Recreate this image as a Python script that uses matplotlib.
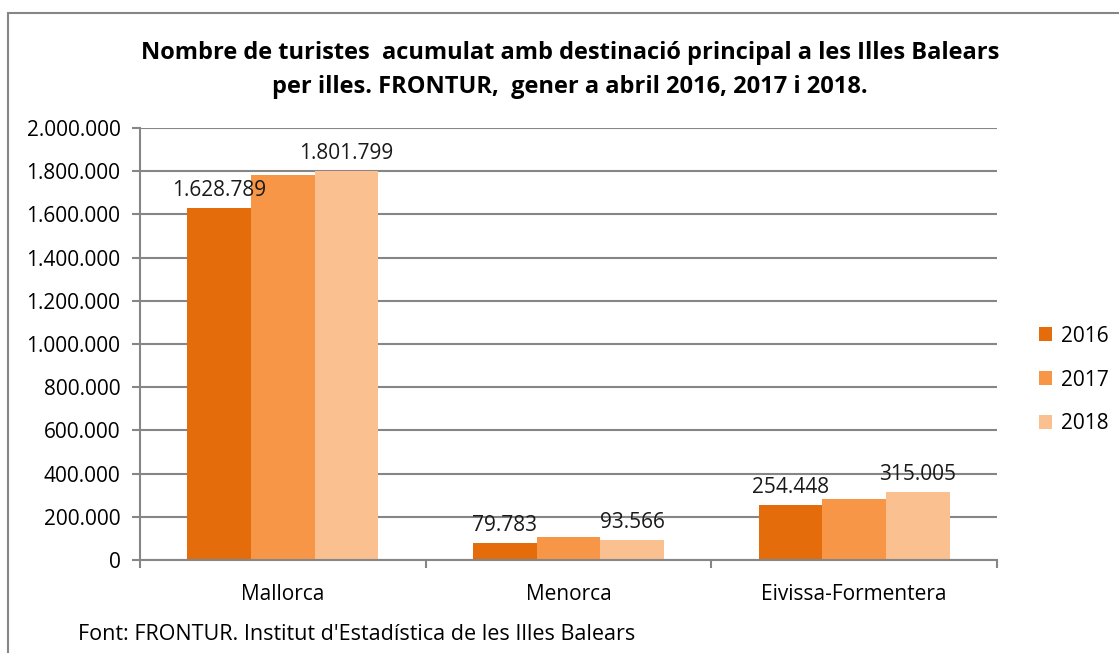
import numpy as np
import matplotlib
matplotlib.use('Agg')
import matplotlib.pyplot as plt
from matplotlib.patches import Rectangle

plt.rcParams['font.family'] = ['Open Sans', 'DejaVu Sans']

illes = ['Mallorca', 'Menorca', 'Eivissa-Formentera']
anys = ['2016', '2017', '2018']
v2016 = [1628789, 79783, 254448]
v2017 = [1782000, 106500, 282400]
v2018 = [1801799, 93566, 315005]
colors = ['#E46C0A', '#F79646', '#FAC090']

# labels shown in the original only for 2016 and 2018
show_label = [True, False, True]

yticks = np.arange(0, 2000001, 200000)
grey = '#868686'
fs = 15


def fmt(v):
    return '{:,}'.format(int(v)).replace(',', '.')


fig = plt.figure(figsize=(11.19, 6.53), dpi=100)
ax = fig.add_axes([140 / 1119, 1 - 560 / 653, 857 / 1119, 432 / 653])

x = np.arange(len(illes))
width = 0.223
series = [v2016, v2017, v2018]
for i, (vals, c, lab) in enumerate(zip(series, colors, anys)):
    bars = ax.bar(x + (i - 1) * width, vals, width, color=c, label=lab, zorder=2)
    if show_label[i]:
        for b, v in zip(bars, vals):
            ax.annotate(fmt(v), (b.get_x() + b.get_width() / 2, b.get_height()),
                        xytext=(0, 5), textcoords='offset points',
                        ha='center', va='bottom', fontsize=fs, color='#1a1a1a')

ax.set_xlim(-0.5, 2.5)
ax.set_ylim(0, 2000000)
ax.set_yticks(yticks)
ax.set_yticklabels([fmt(t) if t > 0 else '0' for t in yticks], fontsize=fs)
ax.yaxis.grid(True, color=grey, linewidth=1.5, zorder=0)
ax.set_axisbelow(True)

ax.set_xticks([-0.5, 0.5, 1.5, 2.5])
ax.set_xticklabels([])
ax.set_xticks(x, minor=True)
ax.set_xticklabels(illes, minor=True, fontsize=fs)
ax.tick_params(axis='x', which='minor', length=0, pad=17)
ax.tick_params(axis='x', which='major', length=6, width=1.5, color=grey)
ax.tick_params(axis='y', length=6, width=1.5, color=grey, pad=8)

for s in ['top', 'right']:
    ax.spines[s].set_visible(False)
for s in ['left', 'bottom']:
    ax.spines[s].set_color(grey)
    ax.spines[s].set_linewidth(1.5)

fig.text(570 / 1119, 1 - 70 / 653,
         'Nombre de turistes  acumulat amb destinació principal a les Illes Balears\n'
         'per illes. FRONTUR,  gener a abril 2016, 2017 i 2018.',
         ha='center', va='center', fontsize=17, fontweight='bold',
         linespacing=1.55)

leg = fig.legend(loc='center left', bbox_to_anchor=(1020 / 1119, 1 - 380 / 653),
                 frameon=False, fontsize=fs, handlelength=0.65, handleheight=0.65,
                 labelspacing=1.1, handletextpad=0.4)

fig.text(78 / 1119, 1 - 634 / 653, "Font: FRONTUR. Institut d'Estadística de les Illes Balears",
         ha='left', va='center', fontsize=15.5)

fig.patches.append(Rectangle((8 / 1119, -0.1), 1.2, 1 - 13 / 653 + 0.1,
                             transform=fig.transFigure, fill=False,
                             edgecolor=grey, linewidth=1.5))

fig.savefig('out.png', dpi=100)
